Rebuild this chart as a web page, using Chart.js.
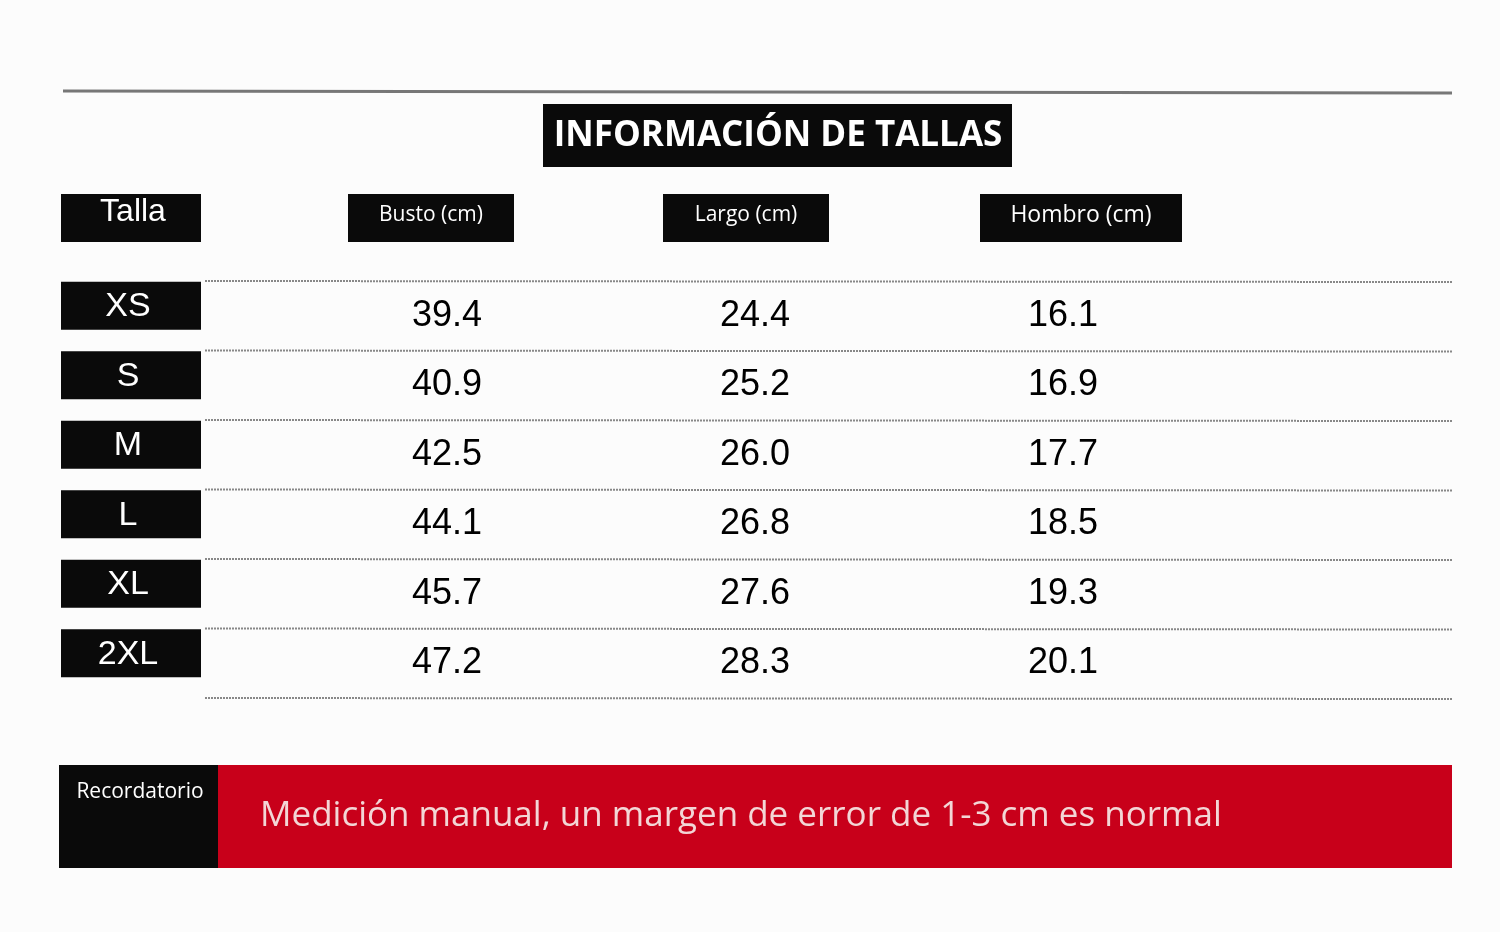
<!DOCTYPE html>
<html><head><meta charset="utf-8">
<script src="https://cdn.jsdelivr.net/npm/chart.js@4/dist/chart.umd.min.js"></script>
<style>html,body{margin:0;padding:0;background:#fcfcfc}#w{width:1500px;height:932px}</style>
</head><body><div id="w"><canvas id="c"></canvas></div>
<script>
const title = "INFORMACIÓN DE TALLAS";
const sizes = ["XS","S","M","L","XL","2XL"];
const columns = ["Busto (cm)","Largo (cm)","Hombro (cm)"];
const busto = ["39.4","40.9","42.5","44.1","45.7","47.2"];
const largo = ["24.4","25.2","26.0","26.8","27.6","28.3"];
const hombro = ["16.1","16.9","17.7","18.5","19.3","20.1"];
const note = "Medición manual, un margen de error de 1-3 cm es normal";
const noteLabel = "Recordatorio";
const sizeHeader = "Talla";
const series = [busto, largo, hombro];

const points = [];
columns.forEach((c,ci)=>sizes.forEach((s,si)=>points.push({x:c,y:s,v:series[ci][si]})));

const tablePlugin = {
  id:'table',
  afterDatasetsDraw(chart){
    const ctx = chart.ctx, xs = chart.scales.x, ys = chart.scales.y;
    ctx.save();
    ctx.fillStyle = '#fcfcfc';
    // top rule
    ctx.strokeStyle='#777'; ctx.lineWidth=3;
    ctx.beginPath(); ctx.moveTo(63,91); ctx.lineTo(1452,93); ctx.stroke();
    // title
    ctx.fillStyle='#0a0a0a'; ctx.fillRect(543,104,469,63);
    ctx.fillStyle='#fff'; ctx.font='bold 35px "Open Sans", sans-serif';
    ctx.textAlign='center'; ctx.textBaseline='middle';
    ctx.fillText(title, 778, 136);
    // header boxes
    ctx.fillStyle='#0a0a0a'; ctx.fillRect(61,194,140,48);
    ctx.fillStyle='#fff'; ctx.font='32px "Liberation Sans", Arial, sans-serif';
    ctx.fillText(sizeHeader,133,212);
    const hb=[[348,166],[663,166],[980,202]];
    columns.forEach((c,i)=>{
      ctx.fillStyle='#0a0a0a'; ctx.fillRect(hb[i][0],194,hb[i][1],48);
      ctx.fillStyle='#fff'; ctx.font=(i==2?'23px':'21px')+' "Open Sans", sans-serif';
      ctx.fillText(c, hb[i][0]+hb[i][1]/2, 215);
    });
    // dotted separators
    const step = ys.getPixelForValue(1)-ys.getPixelForValue(0);
    ctx.strokeStyle='#888'; ctx.lineWidth=2; ctx.setLineDash([2,1]);
    for(let i=0;i<=sizes.length;i++){
      const y = ys.getPixelForValue(0)-step/2+i*step;
      ctx.beginPath(); ctx.moveTo(205,y); ctx.lineTo(1453,y+1); ctx.stroke();
    }
    ctx.setLineDash([]);
    // row labels
    sizes.forEach((s,i)=>{
      const y = ys.getPixelForValue(i);
      ctx.fillStyle='#0a0a0a'; ctx.fillRect(61,y-34,140,48);
      ctx.fillStyle='#fff'; ctx.font='34px "Liberation Sans", Arial, sans-serif';
      ctx.fillText(s,128,y-9);
    });
    // values
    ctx.fillStyle='#000'; ctx.font='36px "Liberation Sans", Arial, sans-serif';
    chart.data.datasets[0].data.forEach(p=>{
      ctx.fillText(p.v, xs.getPixelForValue(columns.indexOf(p.x)), ys.getPixelForValue(sizes.indexOf(p.y)));
    });
    // footer
    ctx.fillStyle='#0a0a0a'; ctx.fillRect(59,765,160,103);
    ctx.fillStyle='#c8001a'; ctx.fillRect(218,765,1234,103);
    ctx.fillStyle='#fff'; ctx.font='21px "Open Sans", sans-serif';
    ctx.fillText(noteLabel,140,792);
    ctx.fillStyle='#f3d6d6'; ctx.font='35px "Open Sans", sans-serif'; ctx.textAlign='left';
    ctx.fillText(note,260,816);
    ctx.restore();
  }
};

new Chart(document.getElementById('c'),{
  type:'scatter',
  data:{datasets:[{data:points,pointRadius:0}]},
  options:{
    responsive:true, maintainAspectRatio:false, animation:false,
    layout:{padding:{left:293,right:283,top:281,bottom:234}},
    plugins:{legend:{display:false},tooltip:{enabled:false}},
    scales:{
      x:{type:'category',labels:columns,offset:true,display:false},
      y:{type:'category',labels:sizes,offset:true,display:false}
    }
  },
  plugins:[tablePlugin]
});
</script></body></html>
